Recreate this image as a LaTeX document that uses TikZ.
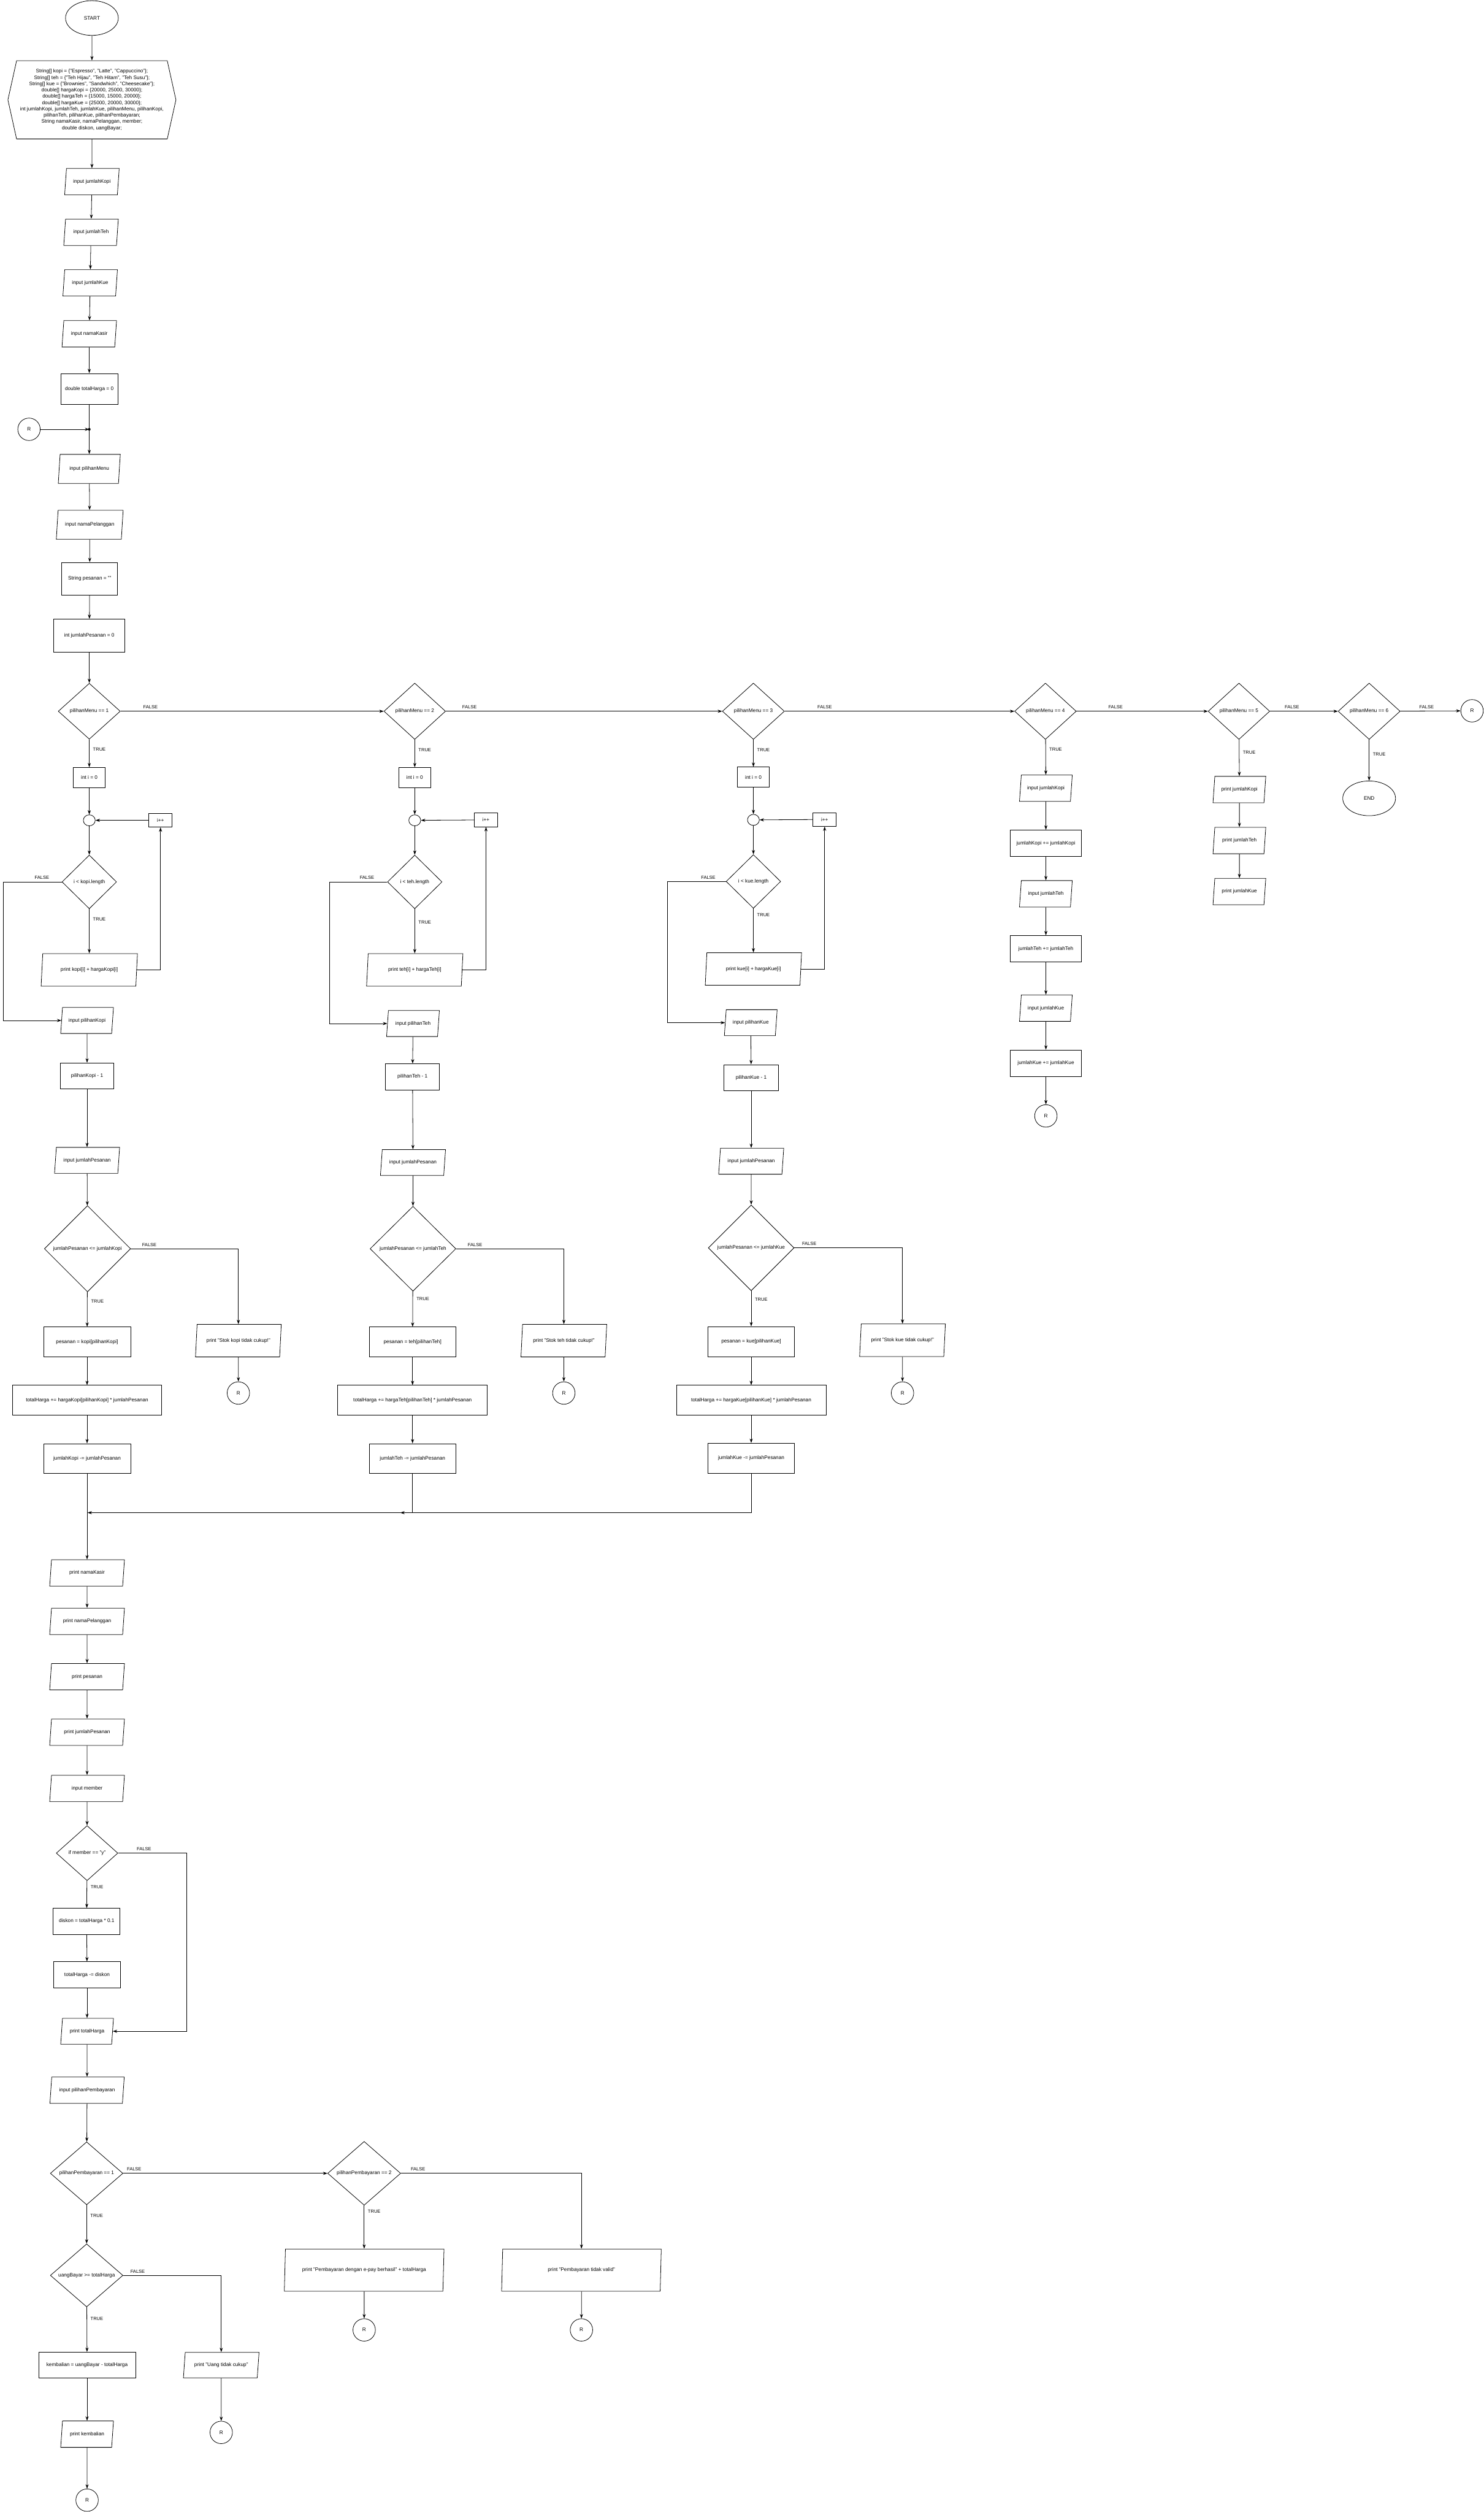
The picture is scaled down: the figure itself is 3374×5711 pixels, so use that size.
\documentclass[tikz,border=0pt]{standalone}
\usepackage{fontspec}
\setmainfont{Liberation Sans}
\usetikzlibrary{shapes.geometric}
\usetikzlibrary{shapes.symbols}
\usetikzlibrary{arrows.meta}
\newcommand{\nodefont}{\fontsize{11.5}{14.3}\selectfont}
\newcommand{\lblfont}{\fontsize{10.5}{12}\selectfont}
\tikzset{
  % start / end
  term/.style={draw, ellipse, minimum width=120pt, minimum height=79pt, inner sep=0pt},
  % process box, width as argument
  proc/.style={draw, rectangle, minimum width=#1, minimum height=60pt, inner sep=2pt},
  % input / output
  io/.style={draw, trapezium, trapezium left angle=72, trapezium right angle=108,
    trapezium stretches body, minimum width=#1, minimum height=60pt, inner sep=1pt},
  iotall/.style={io=#1, minimum height=74pt, trapezium left angle=74, trapezium right angle=106},
  iobig/.style={io=#1, minimum height=96pt, trapezium left angle=79, trapezium right angle=101},
  % decision
  cond/.style={draw, diamond, minimum width=#1, minimum height=128pt, inner sep=1pt},
  % off-page connector
  conn/.style={draw, circle, minimum size=51pt, inner sep=0pt},
  % loop joint
  joint/.style={draw, ellipse, minimum width=27pt, minimum height=25pt, inner sep=0pt},
  % declaration block
  decl/.style={draw, signal, signal to=west and east, signal pointer angle=155,
    minimum width=382pt, minimum height=178pt, inner sep=1pt, align=center},
  % connectors and their labels
  flow/.style={-{Stealth[length=10pt, width=7pt]}},
  lbl/.style={font=\lblfont, inner sep=1pt},
  flab/.style={lbl, pos=0, above=4pt, xshift=#1},
  tlab/.style={lbl, pos=0, right=7pt, yshift=-#1},
}

\begin{document}
\begin{tikzpicture}[x=1pt, y=-1pt, font=\nodefont, line width=1.1pt]
  \useasboundingbox (0,0) rectangle (3374,5711);

  % start and declarations
  \node[term] (start) at (209,41) {START};
  \node[decl] (vars) at (209,227) {String[] kopi = \{"Espresso", "Latte", "Cappuccino"\};\\
    String[] teh = \{"Teh Hijau", "Teh Hitam", "Teh Susu"\};\\
    String[] kue = \{"Brownies", "Sandwhich", "Cheesecake"\};\\
    double[] hargaKopi = \{20000, 25000, 30000\};\\
    double[] hargaTeh = \{15000, 15000, 20000\};\\
    double[] hargaKue = \{25000, 20000, 30000\};\\
    int jumlahKopi, jumlahTeh, jumlahKue, pilihanMenu, pilihanKopi,\\
    pilihanTeh, pilihanKue, pilihanPembayaran;\\
    String namaKasir, namaPelanggan, member;\\
    double diskon, uangBayar;};
  \node[io=124pt] (injk) at (209,413) {input jumlahKopi};
  \node[io=124pt] (injt) at (207,528) {input jumlahTeh};
  \node[io=124pt] (injq) at (205,643) {input jumlahKue};
  \node[io=124pt] (inks) at (203,759) {input namaKasir};
  \node[proc=130pt, minimum height=70pt] (th0) at (203,884) {double totalHarga = 0};
  \node[conn] (rtop) at (66,976) {R};
  \coordinate (j1) at (203,976);
  \node[io=141pt, minimum height=66pt] (ipm) at (203,1066) {input pilihanMenu};
  \node[io=152pt, minimum height=66pt] (inpl) at (204,1193) {input namaPelanggan};
  \node[proc=127pt, minimum height=75pt] (spes) at (204,1316) {String pesanan = ""};
  \node[proc=162pt, minimum height=75pt] (ijp) at (203,1445) {int jumlahPesanan = 0};

  % menu choices
  \node[cond=141pt, minimum height=127pt] (m1) at (203,1617) {pilihanMenu == 1};
  \node[cond=140pt] (m2) at (943,1617) {pilihanMenu == 2};
  \node[cond=141pt] (m3) at (1713,1617) {pilihanMenu == 3};
  \node[cond=140pt] (m4) at (2377,1617) {pilihanMenu == 4};
  \node[cond=140pt] (m5) at (2817,1617) {pilihanMenu == 5};
  \node[cond=141pt] (m6) at (3113,1617) {pilihanMenu == 6};
  \node[conn] (r6) at (3347,1616) {R};
  \node[term] (endn) at (3113,1815) {END};

  % kopi
  \node[proc=72pt, minimum height=46pt] (i0k) at (203,1768) {int i = 0};
  \node[joint] (ck) at (203,1865) {};
  \node[proc=53pt, minimum height=31pt] (inck) at (365,1865) {i++};
  \node[cond=124pt, minimum height=122pt] (lk) at (203,2005) {i < kopi.length};
  \node[iotall=219pt] (prk) at (203,2205) {print kopi[i] + hargaKopi[i]};
  \node[io=120pt, minimum height=59pt] (ipk) at (198,2320) {input pilihanKopi};
  \node[proc=122pt, minimum height=59pt] (pk1) at (198,2446) {pilihanKopi - 1};
  \node[io=148pt, minimum height=59pt] (ijk) at (198,2638) {input jumlahPesanan};
  \node[cond=196pt, minimum height=196pt] (dk) at (199,2839) {jumlahPesanan <= jumlahKopi};
  \node[proc=198pt, minimum height=68pt] (psk) at (198,3051) {pesanan = kopi[pilihanKopi]};
  \node[iotall=195pt] (sk) at (542,3048) {print "Stok kopi tidak cukup!"};
  \node[conn] (rk) at (542,3167) {R};
  \node[proc=339pt, minimum height=67pt] (tk) at (198,3183) {totalHarga += hargaKopi[pilihanKopi] * jumlahPesanan};
  \node[proc=198pt, minimum height=68pt] (jk) at (198,3316) {jumlahKopi -= jumlahPesanan};

  % teh
  \node[proc=72pt, minimum height=46pt] (i0t) at (943,1768) {int i = 0};
  \node[joint] (ct) at (943,1865) {};
  \node[proc=53pt, minimum height=31pt] (inct) at (1105,1864) {i++};
  \node[cond=124pt, minimum height=122pt] (lt) at (943,2005) {i < teh.length};
  \node[iotall=219pt] (prt) at (943,2205) {print teh[i] + hargaTeh[i]};
  \node[io=120pt, minimum height=59pt] (ipt) at (939,2327) {input pilihanTeh};
  \node[proc=123pt, minimum height=59pt] (pt1) at (938,2448) {pilihanTeh - 1};
  \node[io=148pt, minimum height=59pt] (ijt) at (939,2643) {input jumlahPesanan};
  \node[cond=195pt, minimum height=193pt] (dt) at (939,2839) {jumlahPesanan <= jumlahTeh};
  \node[proc=196pt, minimum height=68pt] (pst) at (938,3051) {pesanan = teh[pilihanTeh]};
  \node[iotall=195pt] (st) at (1282,3048) {print "Stok teh tidak cukup!"};
  \node[conn] (rt) at (1282,3167) {R};
  \node[proc=340pt, minimum height=67pt] (tt) at (938,3183) {totalHarga += hargaTeh[pilihanTeh] * jumlahPesanan};
  \node[proc=196pt, minimum height=68pt] (jt) at (938,3316) {jumlahTeh -= jumlahPesanan};

  % kue
  \node[proc=72pt, minimum height=46pt] (i0q) at (1713,1767) {int i = 0};
  \node[joint] (cq) at (1713,1864) {};
  \node[proc=53pt, minimum height=31pt] (incq) at (1875,1863) {i++};
  \node[cond=124pt, minimum height=122pt] (lq) at (1713,2004) {i < kue.length};
  \node[iotall=219pt] (prq) at (1713,2203) {print kue[i] + hargaKue[i]};
  \node[io=120pt, minimum height=59pt] (ipq) at (1707,2325) {input pilihanKue};
  \node[proc=124pt, minimum height=59pt] (pq1) at (1708,2450) {pilihanKue - 1};
  \node[io=148pt, minimum height=59pt] (ijq) at (1708,2640) {input jumlahPesanan};
  \node[cond=195pt, minimum height=195pt] (dq) at (1708,2837) {jumlahPesanan <= jumlahKue};
  \node[proc=196pt, minimum height=68pt] (psq) at (1708,3050) {pesanan = kue[pilihanKue]};
  \node[iotall=195pt] (sq) at (2052,3047) {print "Stok kue tidak cukup!"};
  \node[conn] (rq) at (2052,3167) {R};
  \node[proc=340pt, minimum height=67pt] (tq) at (1708,3183) {totalHarga += hargaKue[pilihanKue] * jumlahPesanan};
  \node[proc=196pt, minimum height=68pt] (jq) at (1708,3315) {jumlahKue -= jumlahPesanan};

  % menu 4 and 5
  \node[io=120pt] (a4k) at (2378,1792) {input jumlahKopi};
  \node[proc=161pt] (b4k) at (2378,1917) {jumlahKopi += jumlahKopi};
  \node[io=120pt] (a4t) at (2378,2032) {input jumlahTeh};
  \node[proc=161pt] (b4t) at (2378,2157) {jumlahTeh += jumlahTeh};
  \node[io=120pt] (a4q) at (2378,2292) {input jumlahKue};
  \node[proc=161pt] (b4q) at (2378,2417) {jumlahKue += jumlahKue};
  \node[conn] (r4) at (2378,2537) {R};
  \node[io=120pt] (p5k) at (2818,1795) {print jumlahKopi};
  \node[io=120pt] (p5t) at (2818,1911) {print jumlahTeh};
  \node[io=120pt] (p5q) at (2818,2027) {print jumlahKue};

  % receipt and payment
  \node[io=170pt] (pnk) at (198,3576) {print namaKasir};
  \node[io=170pt] (ppl) at (198,3686) {print namaPelanggan};
  \node[io=170pt] (pps) at (198,3812) {print pesanan};
  \node[io=170pt] (pjp) at (198,3938) {print jumlahPesanan};
  \node[io=170pt] (imb) at (198,4066) {input member};
  \node[cond=140pt, minimum height=125pt] (dm) at (198,4213) {if member == "y"};
  \node[proc=152pt, minimum height=59pt] (dsk) at (197,4368) {diskon = totalHarga * 0.1};
  \node[proc=152pt] (thd) at (198,4490) {totalHarga -= diskon};
  \node[io=120pt, minimum height=59pt] (pth) at (198,4618) {print totalHarga};
  \node[io=169pt] (ipb) at (198,4752) {input pilihanPembayaran};
  \node[cond=165pt, minimum height=143pt] (dp1) at (197,4941) {pilihanPembayaran == 1};
  \node[cond=166pt, minimum height=145pt] (dp2) at (828,4941) {pilihanPembayaran == 2};
  \node[cond=165pt, minimum height=142pt] (dub) at (197,5173) {uangBayar >= totalHarga};
  \node[proc=220pt, minimum height=59pt] (kmb) at (198,5377) {kembalian = uangBayar - totalHarga};
  \node[io=172pt, minimum height=58pt] (puc) at (503,5377) {print "Uang tidak cukup"};
  \node[conn] (rpu) at (503,5530) {R};
  \node[io=120pt] (pkm) at (198,5534) {print kembalian};
  \node[conn] (rkm) at (198,5684) {R};
  \node[iobig=363pt] (pep) at (828,5161) {print "Pembayaran dengan e-pay berhasil" + totalHarga};
  \node[iobig=363pt] (ptv) at (1322,5161) {print "Pembayaran tidak valid"};
  \node[conn] (rep) at (828,5297) {R};
  \node[conn] (rtv) at (1322,5297) {R};

  % connectors: start to menu
  \draw[flow] (start) -- (vars);
  \draw[flow] (vars) -- (injk);
  \draw[flow] (injk) -- (injt);
  \draw[flow] (injt) -- (injq);
  \draw[flow] (injq) -- (inks);
  \draw[flow] (inks) -- (th0);
  \draw[flow] (th0) -- (ipm);
  \draw[flow] (rtop) -- (j1);
  \fill (j1) circle (3);
  \draw[flow] (ipm) -- (inpl);
  \draw[flow] (inpl) -- (spes);
  \draw[flow] (spes) -- (ijp);
  \draw[flow] (ijp) -- (m1);
  \draw[flow] (m1) -- node[flab=68pt]{FALSE} (m2);
  \draw[flow] (m2) -- node[flab=54pt]{FALSE} (m3);
  \draw[flow] (m3) -- node[flab=91pt]{FALSE} (m4);
  \draw[flow] (m4) -- node[flab=89pt]{FALSE} (m5);
  \draw[flow] (m5) -- node[flab=50pt]{FALSE} (m6);
  \draw[flow] (m6) -- node[flab=60pt]{FALSE} (r6);
  \draw[flow] (m6) -- node[tlab=34pt]{TRUE} (endn);

  % kopi
  \draw[flow] (m1) -- node[tlab=23pt]{TRUE} (i0k);
  \draw[flow] (i0k) -- (ck);
  \draw[flow] (ck) -- (lk);
  \draw[flow] (lk) -- node[tlab=24pt]{TRUE} (prk);
  \draw[flow] (prk.east) -| (inck.south);
  \draw[flow] (inck) -- (ck);
  \draw[flow] (lk.west) -- node[flab=-45pt]{FALSE} ++(-133,0) |- (ipk.west);
  \draw[flow] (ipk) -- (pk1);
  \draw[flow] (pk1) -- (ijk);
  \draw[flow] (ijk) -- (dk);
  \draw[flow] (dk) -- node[tlab=21pt]{TRUE} (psk);
  \draw[flow] (dk.east) -| node[flab=42pt]{FALSE} (sk.north);
  \draw[flow] (sk) -- (rk);
  \draw[flow] (psk) -- (tk);
  \draw[flow] (tk) -- (jk);
  \draw[flow] (jk) -- (pnk);

  % teh
  \draw[flow] (m2) -- node[tlab=23pt]{TRUE} (i0t);
  \draw[flow] (i0t) -- (ct);
  \draw[flow] (ct) -- (lt);
  \draw[flow] (lt) -- node[tlab=31pt]{TRUE} (prt);
  \draw[flow] (prt.east) -| (inct.south);
  \draw[flow] (inct) -- (ct);
  \draw[flow] (lt.west) -- node[flab=-46pt]{FALSE} ++(-131,0) |- (ipt.west);
  \draw[flow] (ipt) -- (pt1);
  \draw[flow] (pt1) -- (ijt);
  \draw[flow] (ijt) -- (dt);
  \draw[flow] (dt) -- node[tlab=17pt]{TRUE} (pst);
  \draw[flow] (dt.east) -| node[flab=43pt]{FALSE} (st.north);
  \draw[flow] (st) -- (rt);
  \draw[flow] (pst) -- (tt);
  \draw[flow] (tt) -- (jt);

  % kue
  \draw[flow] (m3) -- node[tlab=24pt]{TRUE} (i0q);
  \draw[flow] (i0q) -- (cq);
  \draw[flow] (cq) -- (lq);
  \draw[flow] (lq) -- node[tlab=15pt]{TRUE} (prq);
  \draw[flow] (prq.east) -| (incq.south);
  \draw[flow] (incq) -- (cq);
  \draw[flow] (lq.west) -- node[flab=-40pt]{FALSE} ++(-133,0) |- (ipq.west);
  \draw[flow] (ipq) -- (pq1);
  \draw[flow] (pq1) -- (ijq);
  \draw[flow] (ijq) -- (dq);
  \draw[flow] (dq) -- node[tlab=20pt]{TRUE} (psq);
  \draw[flow] (dq.east) -| node[flab=34pt]{FALSE} (sq.north);
  \draw[flow] (sq) -- (rq);
  \draw[flow] (psq) -- (tq);
  \draw[flow] (tq) -- (jq);

  % merge back into the receipt
  \coordinate (mg1) at (199,3439);
  \coordinate (mg2) at (910,3439);
  \draw[flow] (jt.south) |- (mg1);
  \draw[flow] (jq.south) |- (mg2);

  % menu 4 and 5
  \draw[flow] (m4) -- node[tlab=22pt]{TRUE} (a4k);
  \draw[flow] (a4k) -- (b4k);
  \draw[flow] (b4k) -- (a4t);
  \draw[flow] (a4t) -- (b4t);
  \draw[flow] (b4t) -- (a4q);
  \draw[flow] (a4q) -- (b4q);
  \draw[flow] (b4q) -- (r4);
  \draw[flow] (m5) -- node[tlab=29pt]{TRUE} (p5k);
  \draw[flow] (p5k) -- (p5t);
  \draw[flow] (p5t) -- (p5q);

  % receipt and payment
  \draw[flow] (pnk) -- (ppl);
  \draw[flow] (ppl) -- (pps);
  \draw[flow] (pps) -- (pjp);
  \draw[flow] (pjp) -- (imb);
  \draw[flow] (imb) -- (dm);
  \draw[flow] (dm) -- node[tlab=14pt]{TRUE} (dsk);
  \draw[flow] (dsk) -- (thd);
  \draw[flow] (thd) -- (pth);
  \draw[flow] (dm.east) -- node[flab=59pt]{FALSE} ++(156,0) |- (pth.east);
  \draw[flow] (pth) -- (ipb);
  \draw[flow] (ipb) -- (dp1);
  \draw[flow] (dp1) -- node[tlab=24pt]{TRUE} (dub);
  \draw[flow] (dp1) -- node[flab=25pt]{FALSE} (dp2);
  \draw[flow] (dub) -- node[tlab=27pt]{TRUE} (kmb);
  \draw[flow] (dub.east) -| node[flab=33pt]{FALSE} (puc.north);
  \draw[flow] (puc) -- (rpu);
  \draw[flow] (kmb) -- (pkm);
  \draw[flow] (pkm) -- (rkm);
  \draw[flow] (dp2) -- node[tlab=14pt]{TRUE} (pep);
  \draw[flow] (dp2.east) -| node[flab=39pt]{FALSE} (ptv.north);
  \draw[flow] (pep) -- (rep);
  \draw[flow] (ptv) -- (rtv);

\end{tikzpicture}
\end{document}
